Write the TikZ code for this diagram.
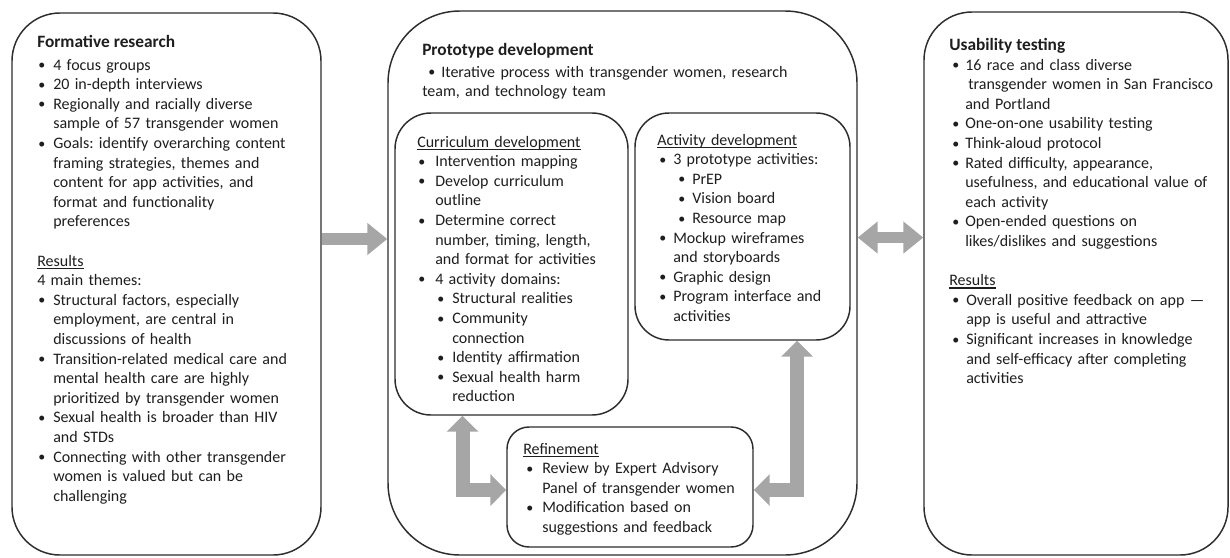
\documentclass[tikz,border=0pt]{standalone}
\usepackage{fontspec}
\setmainfont{Carlito}
\usetikzlibrary{arrows.meta}
\frenchspacing

\definecolor{arrowgray}{RGB}{166,166,166}
\definecolor{linegray}{RGB}{45,45,45}
\definecolor{textblack}{RGB}{30,30,30}

% one pixel of the drawing grid
\newlength{\pxu}\setlength{\pxu}{0.75pt}
% small list bullet
\newcommand{\bdot}{\raisebox{0.3pt}{\fontsize{10.5}{10.5}\selectfont\textbullet}}
% bullet item: #1 bullet offset, #2 text offset (grid units), #3 text
\newcommand{\itm}[3]{\noindent\hangindent=#2\pxu\hangafter=1\hbox to #2\pxu{\hskip#1\pxu\bdot\hfil}#3\par}
% heading with a heavy underline
\newcommand{\ulh}[1]{\leavevmode\setbox0=\hbox{#1}\rlap{\rule[-2.6pt]{\wd0}{1.45pt}}\box0}

\tikzset{
  panel/.style={draw=linegray, line width=1.1pt, inner sep=0pt},
  head/.style={anchor=base west, inner sep=0pt, text=textblack,
    font=\fontsize{13}{15}\selectfont\bfseries},
  body/.style={anchor=base west, inner sep=0pt, text=textblack, text width=#1,
    align=left, font=\fontsize{12}{14.7}\selectfont},
  blockarrow/.style={draw=arrowgray, line width=8.5pt},
  bentarrow/.style={draw=arrowgray, line width=10.5pt, line join=miter,
    {Triangle[width=23.25pt,length=12pt]}-{Triangle[width=23.25pt,length=12pt]}},
}

\begin{document}
\begin{tikzpicture}[x=0.75pt, y=-0.75pt]
\useasboundingbox (0,0) rectangle (1230,557);

% outer panels
\node[panel, rounded corners=36pt, minimum width=231.75pt, minimum height=406.5pt] (form) at (166.5,284) {};
\node[panel, rounded corners=54pt, minimum width=351.75pt, minimum height=408pt] (proto) at (622.5,283) {};
\node[panel, rounded corners=36pt, minimum width=228pt, minimum height=407.25pt] (usab) at (1076,283.5) {};

% inner panels of the prototype stage
\node[panel, rounded corners=27pt, minimum width=174.75pt, minimum height=226.5pt] (curr) at (511.5,264) {};
\node[panel, rounded corners=25.5pt, minimum width=161.25pt, minimum height=170.25pt] (act) at (742.5,226.5) {};
\node[panel, rounded corners=16.5pt, minimum width=184.5pt, minimum height=90pt] (refine) at (630,487) {};

% formative research
\node[head] (formhead) at (37,47) {Formative research};
\node[body=240pt] (formtext) at (37,70) {%
\itm{1}{16}{4 focus groups}
\itm{1}{16}{20 in-depth interviews}
\itm{1}{16}{Regionally and racially diverse\newline sample of 57 transgender women}
\itm{1}{16}{Goals: identify overarching content\newline framing strategies, themes and\newline content for app activities, and\newline format and functionality\newline preferences}
\mbox{}\par
\ulh{Results}\par
\noindent 4 main themes:\par
\itm{1}{16}{Structural factors, especially\newline employment, are central in\newline discussions of health}
\itm{1}{16}{Transition-related medical care and\newline mental health care are highly\newline prioritized by transgender women}
\itm{1}{16}{Sexual health is broader than HIV\newline and STDs}
\itm{1}{16}{Connecting with other transgender\newline women is valued but can be\newline challenging}};

% prototype development
\node[head] (protohead) at (422,55) {Prototype development};
\node[body=360pt] (prototext) at (422,77) {%
\hbox to 19\pxu{\hskip6\pxu\bdot\hfil}Iterative process with transgender women, research\newline team, and technology team};

\node[body=175pt] (currtext) at (417,147) {%
\ulh{Curriculum development}\par
\itm{1}{18}{Intervention mapping}
\itm{1}{18}{Develop curriculum\newline outline}
\itm{1}{18}{Determine correct\newline number, timing, length,\newline and format for activities}
\itm{1}{18}{4 activity domains:}
\itm{20}{35}{Structural realities}
\itm{20}{35}{Community\newline connection}
\itm{20}{35}{Identity affirmation}
\itm{20}{35}{Sexual health harm\newline reduction}};

\node[body=160pt] (acttext) at (657,145) {%
\ulh{Activity development}\par
\itm{2}{16}{3 prototype activities:}
\itm{21}{35}{PrEP}
\itm{21}{35}{Vision board}
\itm{21}{35}{Resource map}
\itm{2}{16}{Mockup wireframes\newline and storyboards}
\itm{2}{16}{Graphic design}
\itm{2}{16}{Program interface and\newline activities}};

\node[body=180pt] (refinetext) at (523,454) {%
\ulh{Refinement}\par
\itm{3}{19}{Review by Expert Advisory\newline Panel of transgender women}
\itm{3}{19}{Modification based on\newline suggestions and feedback}};

% usability testing
\node[head] (usabhead) at (949,50) {Usability testing};
\node[body=230pt] (usabtext) at (949,70) {%
\itm{3}{16}{16 race and class diverse\newline\hspace*{2.25pt}transgender women in San Francisco\newline and Portland}
\itm{3}{16}{One-on-one usability testing}
\itm{3}{16}{Think-aloud protocol}
\itm{3}{16}{Rated difficulty, appearance,\newline usefulness, and educational value of\newline each activity}
\itm{3}{16}{Open-ended questions on\newline likes/dislikes and suggestions}
\mbox{}\par
\ulh{Results}\par
\itm{3}{17}{Overall positive feedback on app —\newline app is useful and attractive}
\itm{3}{17}{Significant increases in knowledge\newline and self-efficacy after completing\newline activities}};

% connectors between stages
\draw[blockarrow, -{Triangle[width=23.25pt,length=15pt]}]
  ([yshift=33.75pt]form.east) -- ([yshift=33.75pt]form.east -| proto.west);
\draw[blockarrow, {Triangle[width=23.25pt,length=15pt]}-{Triangle[width=23.25pt,length=15pt]}]
  ([yshift=34.1pt]proto.east) -- ([yshift=34.1pt]proto.east -| usab.west);

% feedback loops through refinement
\draw[bentarrow] ([xshift=-36.75pt]curr.south) |- ([yshift=-2.25pt]refine.west);
\draw[bentarrow] ([xshift=40.9pt]act.south) |- ([yshift=-2.25pt]refine.east);
\end{tikzpicture}
\end{document}
